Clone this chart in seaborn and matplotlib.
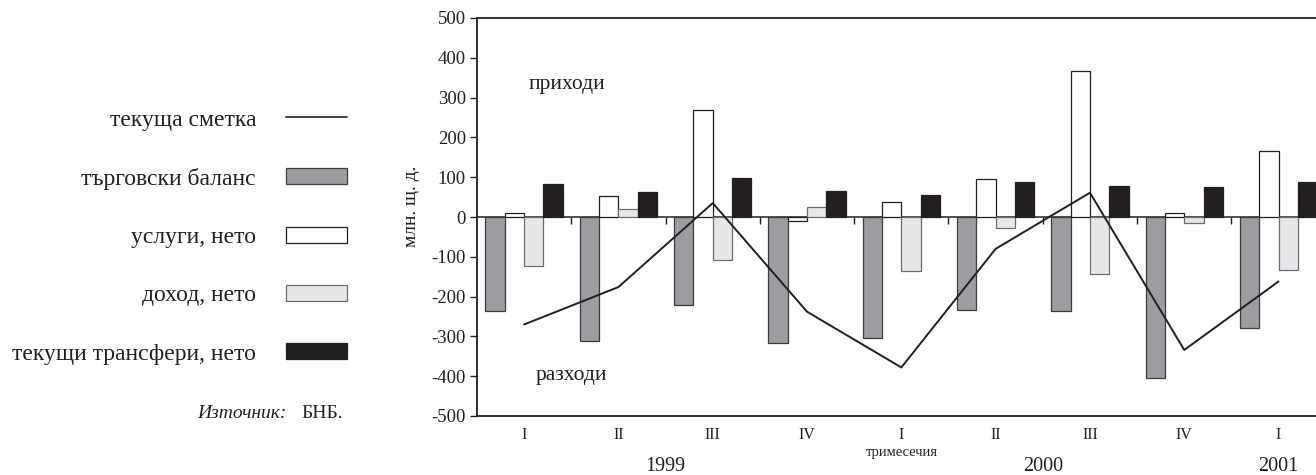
import numpy as np
import pandas as pd
import matplotlib
matplotlib.use("Agg")
import matplotlib.pyplot as plt
import matplotlib.transforms as mtransforms
from matplotlib.patches import Patch
from matplotlib.lines import Line2D
import seaborn as sns

# ---------------- data ----------------
quarters = ["I", "II", "III", "IV", "I", "II", "III", "IV", "I"]
period_years = ["1999", "1999", "1999", "1999", "2000", "2000", "2000", "2000", "2001"]
years = ["1999", "2000", "2001"]
trade = [-237, -311, -220, -317, -304, -233, -237, -404, -280]
services = [10, 54, 268, -11, 38, 96, 367, 11, 165]
income = [-123, 21, -107, 26, -136, -27, -143, -14, -132]
transfers = [82, 63, 99, 65, 56, 88, 78, 76, 88]
current_account = [-270, -176, 35, -238, -378, -80, 61, -334, -162]

bar_names = ["търговски баланс", "услуги, нето", "доход, нето", "текущи трансфери, нето"]
line_name = "текуща сметка"
yticks = [-500, -400, -300, -200, -100, 0, 100, 200, 300, 400, 500]

fill_colors = ["#9c9da1", "#ffffff", "#e6e7e8", "#231f20"]
edge_colors = ["#3c3c3e", "#231f20", "#6d6e71", "#231f20"]
line_color = "#231f20"

# ---------------- frame ----------------
periods = [f"{y}-{q}" for y, q in zip(period_years, quarters)]
rows = []
for name, vals in zip(bar_names, [trade, services, income, transfers]):
    for p, v in zip(periods, vals):
        rows.append({"period": p, "series": name, "value": v})
df = pd.DataFrame(rows)

sns.set_theme(style="white")
plt.rcParams["font.family"] = ["Liberation Serif", "DejaVu Serif"]
plt.rcParams["text.color"] = "#231f20"
plt.rcParams["axes.labelcolor"] = "#231f20"
plt.rcParams["xtick.color"] = "#231f20"
plt.rcParams["ytick.color"] = "#231f20"

W, H = 1316, 475
fig = plt.figure(figsize=(W / 100, H / 100), dpi=100)
ax = fig.add_axes([477 / W, 59 / H, (W - 477) / W, 398 / H])

sns.barplot(data=df, x="period", y="value", hue="series", order=periods,
            hue_order=bar_names, palette=fill_colors, width=0.82, dodge=True,
            saturation=1, errorbar=None, legend=False, linewidth=0.9, ax=ax)
for cont, ec in zip(ax.containers, edge_colors):
    for bar in cont:
        bar.set_edgecolor(ec)

x_idx = np.arange(len(periods))
sns.lineplot(x=x_idx, y=current_account, color=line_color, linewidth=1.4, ax=ax)

ax.set_xlim(-0.5, -0.5 + (W - 477) / 94.3)
ax.set_ylim(-500, 500)
ax.set_yticks(yticks)
ax.set_yticklabels([str(v) for v in yticks])
ax.tick_params(axis="y", direction="out", length=5, width=1, left=True, labelsize=13.5, pad=3)
ax.set_xticks(x_idx)
ax.set_xticklabels(quarters)
ax.tick_params(axis="x", length=0, labelsize=11.5, pad=8)
ax.set_xlabel("")
ax.set_ylabel("млн. щ. д.", fontsize=14)
ax.yaxis.set_label_coords(-0.068, 0.528)

for s in ["left", "top", "bottom"]:
    ax.spines[s].set_visible(True)
    ax.spines[s].set_color("#231f20")
    ax.spines[s].set_linewidth(1.3)
ax.spines["right"].set_visible(False)

# zero line with boundary ticks
sec = ax.secondary_xaxis(0.5)
sec.set_xticks(x_idx[:-1] + 0.5)
sec.tick_params(axis="x", direction="in", length=5, width=1, top=True, bottom=False,
                labeltop=False, labelbottom=False, color="#231f20")
for s in sec.spines.values():
    s.set_color("#231f20")
    s.set_linewidth(1.1)

# annotations
ax.text(0.107, 0.832, "приходи", transform=ax.transAxes, ha="center", va="center", fontsize=15.5)
ax.text(0.113, 0.103, "разходи", transform=ax.transAxes, ha="center", va="center", fontsize=15.5)

blend = mtransforms.blended_transform_factory(ax.transData, ax.transAxes)
for y in years:
    idx = [i for i, py in enumerate(period_years) if py == y]
    ax.text(np.mean(idx), -0.128, y, transform=blend, ha="center", va="center", fontsize=14.5)
ax.text(4, -0.092, "тримесечия", transform=blend, ha="center", va="center", fontsize=10.5)

# legend
handles = [Line2D([0], [0], color=line_color, lw=1.2)]
labels = [line_name]
for name, fc, ec in zip(bar_names, fill_colors, edge_colors):
    handles.append(Patch(facecolor=fc, edgecolor=ec, linewidth=0.9))
    labels.append(name)
fig.legend(handles, labels, loc="center right", bbox_to_anchor=(347 / W, 1 - 237 / H),
           frameon=False, markerfirst=False, fontsize=17, handlelength=2.6,
           handleheight=0.66, handletextpad=1.25, labelspacing=1.57, borderpad=0,
           borderaxespad=0)

fig.text(343 / W, 1 - 414 / H, "БНБ.", ha="right", va="center", fontsize=14)
fig.text(287 / W, 1 - 414 / H, "Източник:", ha="right", va="center", fontsize=14, style="italic")

fig.savefig("out.png", dpi=100)
